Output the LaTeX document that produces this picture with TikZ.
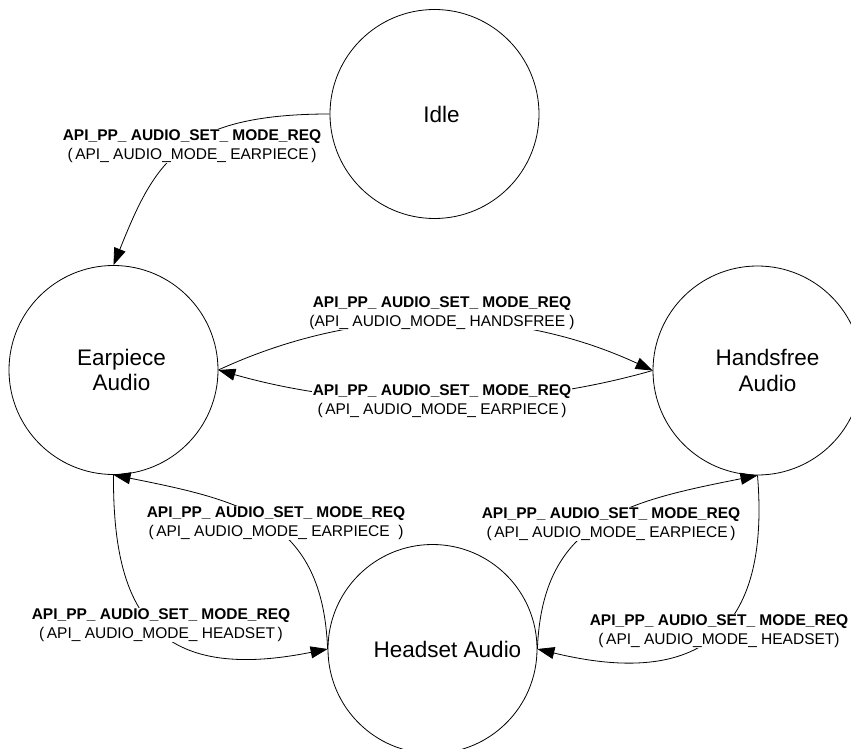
\documentclass[tikz,border=0pt]{standalone}
\usepackage{fontspec}
\setmainfont{Liberation Sans}
\usetikzlibrary{arrows.meta,calc}
\begin{document}
\begin{tikzpicture}[x=1pt,y=-1pt,
  state/.style={circle,draw,line width=0.8pt,minimum size=209pt,inner sep=0pt},
  stxt/.style={align=center,inner sep=0pt,font=\fontsize{22.5}{25.5}\selectfont},
  lbl/.style={fill=white,inner sep=1pt,align=center,font=\fontsize{15.5}{18.5}\selectfont},
  tr/.style={line width=0.8pt,-{Triangle[length=17pt,width=12pt]}}]
\path[use as bounding box] (0,0) rectangle (851,749);
\clip (0,0) rectangle (851,749);
% states
\node[state,label={[stxt,xshift=7pt]center:Idle}] (idle) at (434.5,114) {};
\node[state,label={[stxt,xshift=8pt]center:Earpiece\\Audio}] (ear) at (113.5,370) {};
\node[state,label={[stxt,xshift=10pt]center:Handsfree\\Audio}] (hands) at (757.5,370.5) {};
\node[state,label={[stxt,xshift=15pt]center:Headset Audio}] (head) at (432.5,649) {};
% transitions
\draw[tr] (idle.west) .. controls ($(idle.west)+(-150,0)$) and ($(ear.north)+(41,-102)$) .. (ear.north);
\draw[tr] (ear.east) .. controls ($(ear.east)+(140,-65)$) and ($(hands.west)+(-140,-65)$) .. (hands.west);
\draw[tr] (hands.west) .. controls ($(hands.west)+(-140,40)$) and ($(ear.east)+(140,40)$) .. (ear.east);
\draw[tr] (head.west) .. controls ($(head.west)+(-5,-130)$) and ($(ear.south)+(130,26)$) .. (ear.south);
\draw[tr] (ear.south) .. controls ($(ear.south)+(-1,140)$) and ($(head.west)+(-170,34)$) .. (head.west);
\draw[tr] (head.east) .. controls ($(head.east)+(5,-130)$) and ($(hands.south)+(-130,26)$) .. (hands.south);
\draw[tr] (hands.south) .. controls ($(hands.south)+(12,145)$) and ($(head.east)+(173,42)$) .. (head.east);
% labels
\node[lbl] (l1) at (192,146) {\textbf{API\_PP\_ AUDIO\_SET\_ MODE\_REQ}\\(\,API\_ AUDIO\_MODE\_ EARPIECE\,)};
\node[lbl] (l2) at (442,313) {\textbf{API\_PP\_ AUDIO\_SET\_ MODE\_REQ}\\(API\_ AUDIO\_MODE\_ HANDSFREE )};
\node[lbl] (l3) at (442,401) {\textbf{API\_PP\_ AUDIO\_SET\_ MODE\_REQ}\\(\,API\_ AUDIO\_MODE\_ EARPIECE\,)};
\node[lbl] (l4) at (276,523) {\textbf{API\_PP\_ AUDIO\_SET\_ MODE\_REQ}\\(\,API\_ AUDIO\_MODE\_ EARPIECE\ \ )};
\node[lbl] (l5) at (161,625) {\textbf{API\_PP\_ AUDIO\_SET\_ MODE\_REQ}\\(\,API\_ AUDIO\_MODE\_ HEADSET\,)};
\node[lbl] (l6) at (611,524) {\textbf{API\_PP\_ AUDIO\_SET\_ MODE\_REQ}\\(\,API\_ AUDIO\_MODE\_ EARPIECE\,)};
\node[lbl] (l7) at (719,631) {\textbf{API\_PP\_ AUDIO\_SET\_ MODE\_REQ}\\(\,API\_ AUDIO\_MODE\_ HEADSET)};
\end{tikzpicture}
\end{document}
